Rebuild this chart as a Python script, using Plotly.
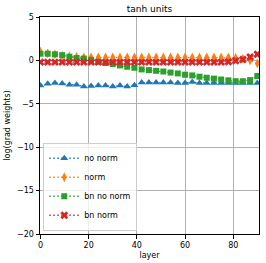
import plotly.graph_objects as go

layers = list(range(0, 91, 3))

no_norm = [-2.9, -2.7, -2.6, -2.65, -2.8, -2.8, -3.0, -2.95, -2.9, -2.9, -3.0, -2.9, -3.0, -2.85,
           -2.55, -2.55, -2.55, -2.55, -2.55, -2.6, -2.6, -2.5, -2.6, -2.6, -2.6, -2.6, -2.6, -2.6,
           -2.6, -2.6, -2.6]
norm = [1.0, 0.8, 0.7, 0.55, 0.45, 0.4, 0.35, 0.35, 0.35, 0.35, 0.35, 0.35, 0.35, 0.35, 0.35,
        0.35, 0.35, 0.35, 0.35, 0.35, 0.35, 0.35, 0.35, 0.35, 0.35, 0.35, 0.35, 0.3, 0.2, 0.0, -0.35]
bn_no_norm = [0.77, 0.77, 0.7, 0.6, 0.42, 0.27, 0.2, 0.04, -0.15, -0.3, -0.42, -0.58, -0.73, -0.85,
              -1.04, -1.12, -1.2, -1.28, -1.4, -1.5, -1.65, -1.73, -1.88, -2.0, -2.1, -2.2, -2.3,
              -2.4, -2.4, -2.27, -1.8]
bn_norm = [-0.2, -0.2, -0.2, -0.2, -0.2, -0.2, -0.2, -0.2, -0.2, -0.2, -0.2, -0.2, -0.2, -0.2,
           -0.2, -0.2, -0.2, -0.2, -0.2, -0.2, -0.2, -0.2, -0.2, -0.2, -0.2, -0.2, -0.15, -0.05,
           0.1, 0.4, 0.7]

series = [
    ("no norm", no_norm, "#1f77b4", "triangle-up", 7),
    ("norm", norm, "#ff7f0e", "diamond-tall", 7),
    ("bn no norm", bn_no_norm, "#2ca02c", "square", 6),
    ("bn norm", bn_norm, "#d62728", "x", 7),
]

fig = go.Figure()
for name, vals, color, sym, sz in series:
    fig.add_trace(go.Scatter(
        x=layers, y=vals, name=name, mode="lines+markers",
        line=dict(color=color, width=1.3, dash="1.5px,2.5px"),
        marker=dict(symbol=sym, size=sz, color=color, line=dict(width=0)),
    ))

axis_common = dict(
    showgrid=True, gridcolor="#b0b0b0", gridwidth=0.8,
    showline=True, linecolor="black", linewidth=1, mirror=True,
    ticks="outside", ticklen=3.5, tickwidth=0.8, tickcolor="black",
    zeroline=False, tickfont=dict(size=8, color="black"), automargin=False,
)

fig.update_layout(
    width=266, height=263,
    margin=dict(l=40, r=7, t=17, b=29, autoexpand=False),
    paper_bgcolor="white", plot_bgcolor="white",
    font=dict(family="DejaVu Sans", size=8, color="black"),
    title=dict(text="tanh units", xref="paper", x=0.5, xanchor="center",
               yref="container", y=1 - 9.3 / 263, yanchor="middle",
               font=dict(size=9)),
    xaxis=dict(range=[-0.2, 90.7], tickvals=[0, 20, 40, 60, 80],
               title=dict(text="layer", font=dict(size=8), standoff=3), **axis_common),
    yaxis=dict(range=[-20, 5], tickvals=[-20, -15, -10, -5, 0, 5],
               title=dict(text="log(grad weights)", font=dict(size=8), standoff=5), **axis_common),
    legend=dict(x=0.015, y=0.015, xanchor="left", yanchor="bottom",
                bgcolor="rgba(255,255,255,0.8)", bordercolor="#cccccc", borderwidth=1,
                font=dict(size=8), tracegroupgap=0, itemwidth=30),
    showlegend=True,
)

fig.write_html("out.html", config={"displayModeBar": False},
               post_script="document.body.style.margin='0px';")
